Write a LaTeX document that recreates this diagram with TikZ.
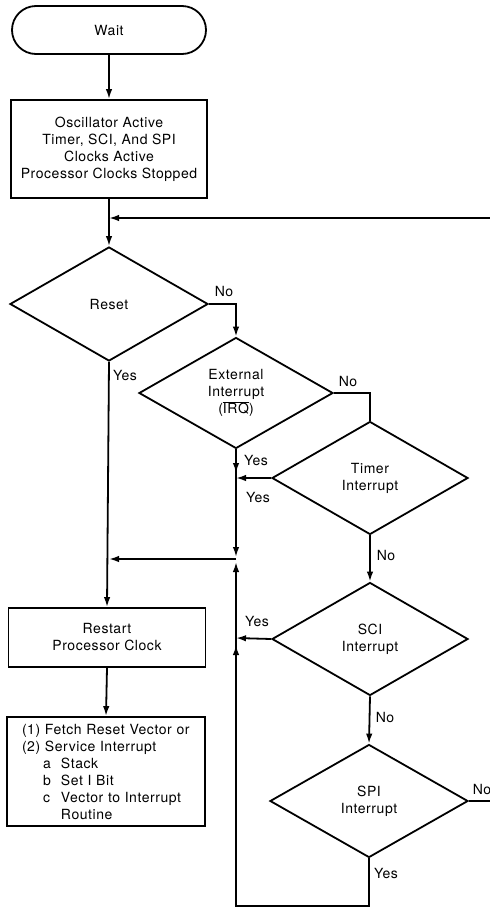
\documentclass[tikz,border=0pt]{standalone}
\usepackage{fontspec}
\setmainfont[LetterSpace=4]{TeX Gyre Heros}
\usetikzlibrary{shapes.geometric,arrows.meta,calc}
\begin{document}
\begin{tikzpicture}[x=1pt,y=-1pt,
  font=\fontsize{14}{17}\selectfont,
  line width=1.8pt,
  arr/.style={-{Latex[length=10pt,width=6.5pt]}},
  term/.style={draw, rectangle, rounded corners=24pt, minimum width=194pt, minimum height=48pt, inner sep=0pt},
  proc/.style={draw, rectangle, align=center, inner sep=0pt},
  dec/.style={draw, diamond, align=center, inner sep=0pt, minimum width=196pt, minimum height=113pt},
  lbl/.style={inner sep=0pt}
]
\useasboundingbox (0,0) rectangle (490,908);

% nodes
\node[term] (wait) at (109,30) {Wait};
\node[proc, minimum width=196pt, minimum height=98pt] (osc) at (109,149)
  {Oscillator Active\\Timer, SCI, And SPI\\Clocks Active\\Processor Clocks Stopped};
\node[dec, minimum width=198pt, minimum height=114pt] (reset) at (109,304) {Reset};
\node[dec, minimum width=194pt, minimum height=111pt] (ext) at (236,393)
  {External\\Interrupt\\($\overline{\hbox{IRQ}}$)};
\node[dec] (timer) at (370,478) {Timer\\Interrupt};
\node[dec] (sci) at (370,639) {SCI\\Interrupt};
\node[dec, minimum width=198pt] (spi) at (369,801) {SPI\\Interrupt};
\node[proc, minimum width=197pt, minimum height=59pt] (restart) at (107,637.5)
  {Restart\\Processor Clock};
\node[proc, minimum width=198pt, minimum height=109pt, align=left, text width=168pt, inner xsep=15pt] (svc) at (106,771.5)
  {(1) Fetch Reset Vector or\\
   (2) Service Interrupt\\
   \hspace*{21pt}\makebox[18pt][l]{a}Stack\\
   \hspace*{21pt}\makebox[18pt][l]{b}Set I Bit\\
   \hspace*{21pt}\makebox[18pt][l]{c}Vector to Interrupt\\
   \hspace*{39pt}Routine};

% coordinates
\coordinate (j0) at (109,218);
\coordinate (fbR) at (490,218);
\coordinate (jA) at (236,478);
\coordinate (jB) at (236,559);
\coordinate (jC) at (236,638);
\coordinate (bot) at (236,906);
\coordinate (spiR) at (490,801);

% connectors
\draw[arr] (wait) -- (osc);
\draw[arr] (osc) -- (reset);
\draw[arr] (fbR) -- (j0);
\draw[arr] (reset.east) -| (ext.north);
\draw (ext.east) -| (timer.north);
\draw (ext.south) -- (jA);
\draw[arr, shorten >=5pt] (ext.south) -- (jA);
\draw[arr] (timer.west) -- (jA);
\draw[arr, shorten >=2pt] (jA) -- (jB);
\draw[arr] (jB) -- (reset.south |- jB);
\draw[arr] (reset.south) -- (restart.north);
\draw[arr] (restart.south) -- (svc.north);
\draw[arr] (timer.south) -- (sci.north);
\draw[arr] (sci.west) -- (jC);
\draw[arr] (sci.south) -- (spi.north);
\draw (spi.east) -- (spiR);
\draw (jC) -- (bot);
\draw[arr, shorten >=7pt] (spi.south) |- (bot) -- (jC);
\draw[arr, shorten >=3pt] (jC) -- (jB);

% labels
\node[lbl] (lRno) at (224,291) {No};
\node[lbl] (lRyes) at (125,375) {Yes};
\node[lbl] (lEno) at (348,381) {No};
\node[lbl] (lEyes) at (256,460) {Yes};
\node[lbl] (lTyes) at (258,497) {Yes};
\node[lbl] (lTno) at (386,555) {No};
\node[lbl] (lSyes) at (257,621) {Yes};
\node[lbl] (lSno) at (385,717) {No};
\node[lbl] (lPno) at (482,789) {No};
\node[lbl] (lPyes) at (386,873) {Yes};
\end{tikzpicture}
\end{document}
